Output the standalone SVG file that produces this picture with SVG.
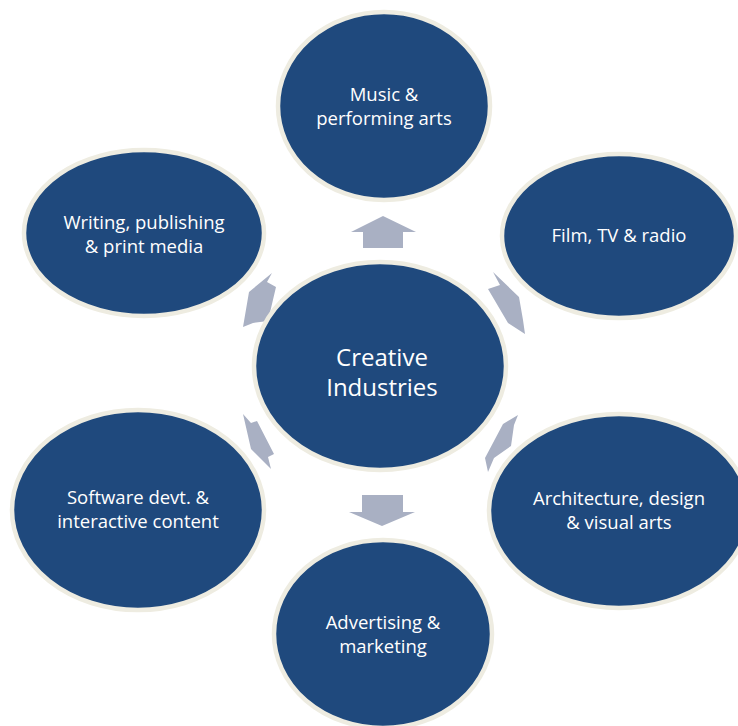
<svg xmlns="http://www.w3.org/2000/svg" width="738" height="726" viewBox="0 0 738 726">
<style>
.node ellipse{fill:#1F497D;stroke:#EEECE1;stroke-width:4.5}
.node text{fill:#FFFFFF;font-family:"Open Sans","Liberation Sans",sans-serif;font-size:18.5px;text-anchor:middle}
.node text.big{font-size:24px}
.arrow{fill:#A9B0C3}
</style>
<rect width="738" height="726" fill="#FFFFFF"/>
<g id="connectors">
<polygon class="arrow" points="383,216 416,232 403,232 403,248 363,248 363,232 351,232"/>
<polygon class="arrow" points="362,495 403,495 403,512 415,512 382,526 349,512 362,512"/>
<polygon class="arrow" points="493,272 519,297 523,320 525,334 508,323 488,289 500,285"/>
<polygon class="arrow" points="272,273 267,282 276,287 268,321 253,323 243,327 249,292"/>
<polygon class="arrow" points="243,414 251,423 257,421 274,454 268,457 271,469 251,449"/>
<polygon class="arrow" points="518,415 514,425 511,446 494,458 488,472 485,458 503,424"/>
</g>
<g id="node-music" class="node">
<ellipse cx="384" cy="106" rx="106" ry="94"/>
<text x="384" y="101">Music &amp;</text>
<text x="384" y="125">performing arts</text>
</g>
<g id="node-film" class="node">
<ellipse cx="619" cy="236" rx="117" ry="82"/>
<text x="619" y="242">Film, TV &amp; radio</text>
</g>
<g id="node-architecture" class="node">
<ellipse cx="619" cy="511" rx="130" ry="97"/>
<text x="619" y="505">Architecture, design</text>
<text x="619" y="529">&amp; visual arts</text>
</g>
<g id="node-advertising" class="node">
<ellipse cx="383" cy="634" rx="109" ry="94"/>
<text x="383" y="629">Advertising &amp;</text>
<text x="383" y="653">marketing</text>
</g>
<g id="node-software" class="node">
<ellipse cx="138" cy="510" rx="126" ry="100"/>
<text x="138" y="504">Software devt. &amp;</text>
<text x="138" y="528">interactive content</text>
</g>
<g id="node-writing" class="node">
<ellipse cx="144" cy="233" rx="120" ry="83"/>
<text x="144" y="229">Writing, publishing</text>
<text x="144" y="253">&amp; print media</text>
</g>
<g id="node-center" class="node">
<ellipse cx="380" cy="366" rx="126" ry="104"/>
<text class="big" x="382" y="366">Creative</text>
<text class="big" x="382" y="396">Industries</text>
</g>
</svg>
